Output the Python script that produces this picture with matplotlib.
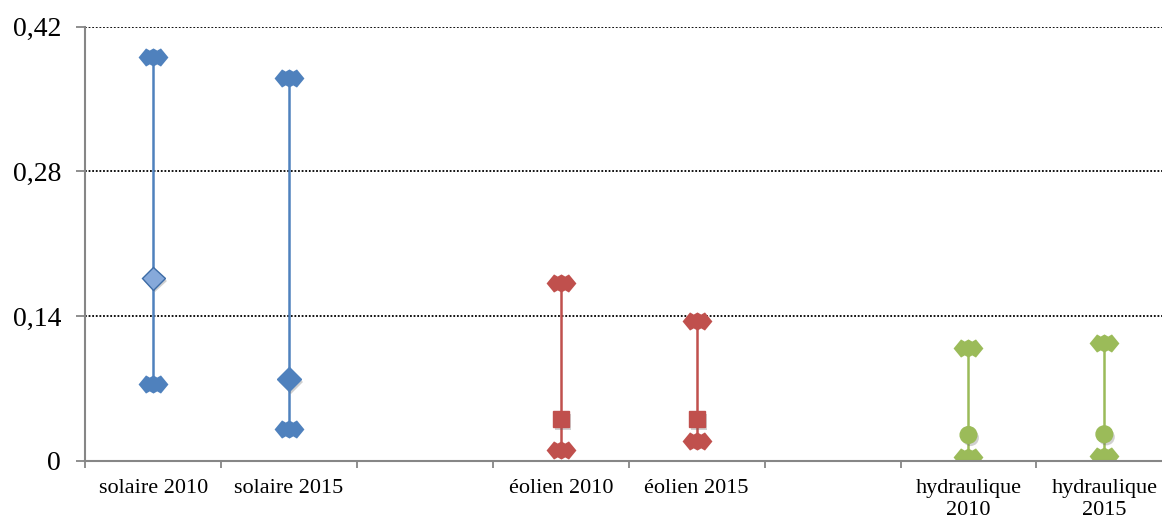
import numpy as np
import matplotlib
matplotlib.use("Agg")
import matplotlib.pyplot as plt
import matplotlib.patheffects as pe
from matplotlib.path import Path

# ---- data -------------------------------------------------------------
categories = ["solaire 2010", "solaire 2015", "",
              "éolien 2010", "éolien 2015", "",
              "hydraulique\n2010", "hydraulique\n2015"]
high = [0.3905, 0.3708, np.nan, 0.1723, 0.1355, np.nan, 0.1088, 0.1142]
low = [0.0740, 0.0304, np.nan, 0.0104, 0.0190, np.nan, 0.0039, 0.0045]
mid = [0.1766, 0.0788, np.nan, 0.0401, 0.0401, np.nan, 0.0249, 0.0256]
yticks = [0, 0.14, 0.28, 0.42]
ytick_labels = ["0", "0,14", "0,28", "0,42"]

# ---- styles ------------------------------------------------------------
BLUE, RED, GREEN = "#4F81BD", "#C0504D", "#9BBB59"
colors = [BLUE, BLUE, None, RED, RED, None, GREEN, GREEN]
mid_markers = ["D", "D", None, "s", "s", None, "o", "o"]
mid_sizes = [11.5, 12, None, 11.5, 11.5, None, 12, 12]
mid_faces = ["#86A9DA", BLUE, None, RED, RED, None, GREEN, GREEN]
mid_edges = ["#3D6CA6", BLUE, None, RED, RED, None, GREEN, GREEN]

plt.rcParams["font.family"] = ["Liberation Serif", "DejaVu Serif"]


def triple_diamond(half_w=14.0, peak_x=7.0, peak_y=8.5, dip_y=6.5):
    # outline of three merged diamonds (Excel high/low marker look)
    top = [(-half_w, 0), (-peak_x, peak_y), (-peak_x / 2, dip_y), (0, peak_y),
           (peak_x / 2, dip_y), (peak_x, peak_y), (half_w, 0)]
    bottom = [(x, -y) for (x, y) in reversed(top[1:-1])]
    verts = top + bottom + [top[0]]
    codes = [Path.MOVETO] + [Path.LINETO] * (len(verts) - 2) + [Path.CLOSEPOLY]
    return Path(verts, codes)


hl_marker = triple_diamond()

fig = plt.figure(figsize=(11.62, 5.19), dpi=100)
ax = fig.add_axes([85.3 / 1162, 58.3 / 519, 1087 / 1162, 434 / 519])

x = np.arange(len(categories))
shadow = [pe.SimplePatchShadow(offset=(1.5, -2), alpha=0.3, shadow_rgbFace="0.4"),
          pe.Normal()]

for i in x:
    if colors[i] is None:
        continue
    ax.vlines(i, low[i], high[i], color=colors[i], lw=1.8, zorder=3)
    ax.plot([i, i], [low[i], high[i]], ls="none", marker=hl_marker,
            ms=21.5, color=colors[i], mew=0, zorder=4)
    ax.plot(i, mid[i], ls="none", marker=mid_markers[i], ms=mid_sizes[i],
            mfc=mid_faces[i], mec=mid_edges[i], mew=1.0, zorder=5,
            path_effects=shadow)

ax.set_xlim(-0.5, len(categories) - 0.5)
ax.set_ylim(0, 0.42)

ax.set_yticks(yticks)
ax.set_yticklabels(ytick_labels, fontsize=20)
ax.set_xticks(x)
ax.set_xticklabels(categories, fontsize=16, linespacing=1.25, va="top")
ax.set_xticks(np.arange(len(categories) + 1) - 0.5, minor=True)
ax.tick_params(axis="x", which="major", length=0, pad=13)
ax.tick_params(axis="x", which="minor", length=5, width=1.3, color="#868686")
ax.tick_params(axis="y", length=6.5, width=1.3, color="#868686", pad=11)

ax.grid(axis="y", which="major", color="black", ls=(0, (1, 1)), lw=1.3)
ax.set_axisbelow(True)

for side in ["top", "right"]:
    ax.spines[side].set_visible(False)
for side in ["left", "bottom"]:
    ax.spines[side].set_color("#868686")
    ax.spines[side].set_linewidth(1.5)
    ax.spines[side].set_zorder(6)

fig.savefig("out.png", dpi=100)
